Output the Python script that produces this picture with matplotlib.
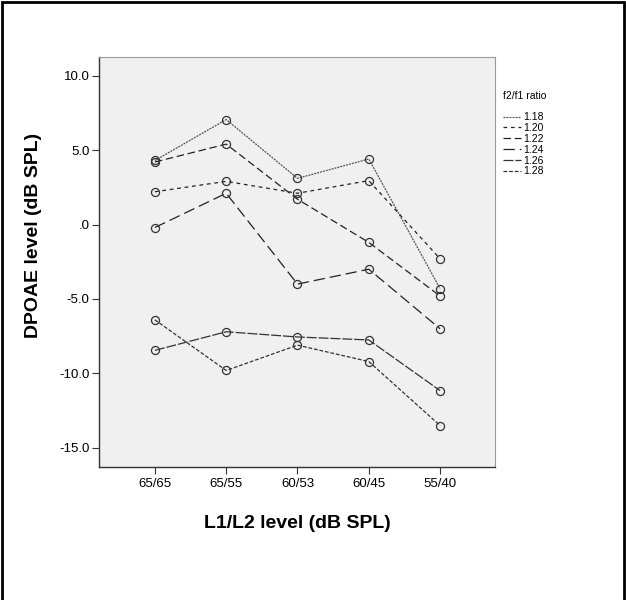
import matplotlib
matplotlib.use('Agg')
import matplotlib.pyplot as plt
from matplotlib.patches import Rectangle

plt.rcParams['font.family'] = ['Liberation Sans', 'DejaVu Sans']

# data
levels = ['65/65', '65/55', '60/53', '60/45', '55/40']
ratios = ['1.18', '1.20', '1.22', '1.24', '1.26', '1.28']
r118 = [4.3, 7.05, 3.1, 4.4, -4.3]
r120 = [2.2, 2.9, 2.1, 2.95, -2.3]
r122 = [4.2, 5.4, 1.7, -1.2, -4.8]
r124 = [-0.2, 2.1, -4.0, -3.0, -7.0]
r126 = [-8.45, -7.2, -7.55, -7.75, -11.15]
r128 = [-6.4, -9.8, -8.1, -9.2, -13.5]
yticks = [10, 5, 0, -5, -10, -15]
ytick_labels = ['10.0', '5.0', '.0', '-5.0', '-10.0', '-15.0']

series = [r118, r120, r122, r124, r126, r128]
dashes = [(1.6, 0.8), (3, 3), (6, 3), (9, 4), (8, 1.5), (3, 1.5)]
colors = ['#555555', '#222222', '#222222', '#222222', '#333333', '#333333']

fig = plt.figure(figsize=(6.26, 6.0), dpi=100)
ax = fig.add_axes([0.1586, 0.2222, 0.6321, 0.6828])
ax.set_facecolor('#f0f0f0')

x = list(range(len(levels)))
for vals, ds, c, lab in zip(series, dashes, colors, ratios):
    ax.plot(x, vals, color=c, lw=0.9, dashes=ds, label=lab,
            marker='o', markersize=5.8, markerfacecolor='none',
            markeredgecolor='#333333', markeredgewidth=0.9)

ax.set_xlim(-0.78, 4.77)
ax.set_ylim(-16.26, 11.25)
ax.set_xticks(x)
ax.set_xticklabels(levels, fontsize=9.5)
ax.set_yticks(yticks)
ax.set_yticklabels(ytick_labels, fontsize=9.5)
ax.tick_params(direction='out', length=5, width=0.8, color='#333333', pad=2)
ax.tick_params(axis='x', pad=3)

for s in ['left', 'bottom']:
    ax.spines[s].set_color('#333333')
    ax.spines[s].set_linewidth(1.0)
for s in ['top', 'right']:
    ax.spines[s].set_color('#999999')
    ax.spines[s].set_linewidth(0.8)

ax.set_xlabel('L1/L2 level (dB SPL)', fontsize=14, fontweight='bold', labelpad=18)
ax.set_ylabel('DPOAE level (dB SPL)', fontsize=14, fontweight='bold')
ax.yaxis.set_label_coords(-0.145, 0.565)

leg = fig.legend(handles=[l for l in ax.get_lines()], labels=ratios,
                 loc='upper left', bbox_to_anchor=(0.797, 0.855),
                 title='f2/f1 ratio', fontsize=7.5, title_fontsize=7.5,
                 frameon=False, handlelength=1.7, handletextpad=0.2,
                 labelspacing=0.08, borderaxespad=0)
leg._legend_box.align = 'left'
leg._legend_box.sep = 8
for h in leg.legend_handles:
    h.set_marker('')

# outer border
fig.add_artist(Rectangle((0.0025, -0.05), 0.994, 1.047, transform=fig.transFigure,
                         fill=False, edgecolor='black', lw=2))

plt.savefig('out.png', dpi=100)
